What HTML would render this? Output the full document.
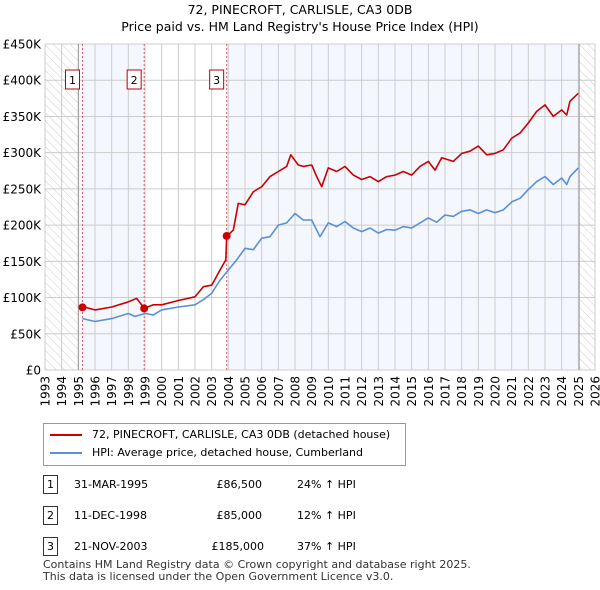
<!DOCTYPE html>
<html><head><meta charset="utf-8"><style>
body{margin:0;background:#fff;font-family:"DejaVu Sans","Liberation Sans",sans-serif;}
#wrap{position:relative;width:600px;height:590px;overflow:hidden}
text{font-family:"DejaVu Sans","Liberation Sans",sans-serif}
</style></head><body><div id="wrap">
<svg id="svg" width="600" height="590"></svg>
</div>
<script>
const hpiYears=[1995.25,1996,1997,1998,1998.4,1999,1999.5,2000,2001,2002,2002.5,2003,2003.5,2004,2004.5,2005,2005.5,2006,2006.5,2007,2007.5,2008,2008.5,2009,2009.3,2009.5,2010,2010.5,2011,2011.5,2012,2012.5,2013,2013.5,2014,2014.5,2015,2015.5,2016,2016.5,2017,2017.5,2018,2018.5,2019,2019.5,2020,2020.5,2021,2021.5,2022,2022.5,2023,2023.5,2024,2024.3,2024.5,2025];
const hpiValues=[71,67,71,78,74,78,76,83,87,90,97,106,124,138,152,168,166,182,184,200,203,216,207,207,193,184,203,198,205,196,191,196,189,194,193,198,196,203,210,204,214,212,219,221,216,221,217,221,232,237,249,260,267,256,265,256,267,279];
const priceYears=[1995.25,1996,1997,1998,1998.5,1998.95,1999.5,2000,2001,2002,2002.5,2003,2003.5,2003.85,2003.9,2004.3,2004.6,2005,2005.5,2006,2006.5,2007,2007.5,2007.75,2008.2,2008.5,2009,2009.3,2009.6,2010,2010.5,2011,2011.5,2012,2012.5,2013,2013.5,2014,2014.5,2015,2015.5,2016,2016.4,2016.8,2017.5,2018,2018.5,2019,2019.5,2020,2020.5,2021,2021.5,2022,2022.5,2023,2023.5,2024,2024.3,2024.5,2025];
const priceValues=[87.5,83,87,94,99,85,90,90,96,101,115,117,138,152,185,193,230,228,246,253,267,274,281,297,283,281,283,267,253,279,274,281,269,263,267,260,267,269,274,269,281,288,276,293,288,299,302,309,297,299,304,320,327,341,357,366,350,359,352,371,382];
const saleYears=[1995.25,1998.95,2003.9];
const saleValues=[86.5,85,185];
const saleLabels=["1","2","3"];
const yTicks=[0,50,100,150,200,250,300,350,400,450];
const yTickLabels=["£0","£50K","£100K","£150K","£200K","£250K","£300K","£350K","£400K","£450K"];
const xTicks=[];for(let y=1993;y<=2026;y++)xTicks.push(y);

const L=45,R=595,T=44,B=370;
const xs=y=>L+(y-1993)*(R-L)/33;
const ys=v=>B-v*(B-T)/450;
const NS="http://www.w3.org/2000/svg";
const svg=document.getElementById('svg');
function mk(tag,attrs,parent){const e=document.createElementNS(NS,tag);for(const k in attrs)e.setAttribute(k,attrs[k]);(parent||svg).appendChild(e);return e;}

const defs=mk('defs',{});
const pat=mk('pattern',{id:'hatch',width:6,height:6,patternUnits:'userSpaceOnUse',patternTransform:'rotate(-45)'},defs);
mk('line',{x1:0,y1:0,x2:0,y2:6,stroke:'#ccc','stroke-width':1},pat);

let t=mk('text',{x:300,y:14,'text-anchor':'middle','font-size':12.5,fill:'#000'});t.textContent="72, PINECROFT, CARLISLE, CA3 0DB";

t=mk('text',{x:300,y:31,'text-anchor':'middle','font-size':12.5,fill:'#000'});t.textContent="Price paid vs. HM Land Registry's House Price Index (HPI)";


let r=mk('rect',{x:xs(1993),y:T,width:xs(1995)-xs(1993),height:B-T,fill:'url(#hatch)'});

r=mk('rect',{x:xs(2025.05),y:T,width:R-xs(2025.05),height:B-T,fill:'url(#hatch)'});

r=mk('rect',{x:xs(1995),y:T,width:xs(saleYears[1])-xs(1995),height:B-T,fill:'#f4f7fd'});

r=mk('rect',{x:xs(saleYears[2]),y:T,width:xs(2025.05)-xs(saleYears[2]),height:B-T,fill:'#f4f7fd'});


yTicks.forEach((v,i)=>{
 const l=mk('line',{x1:L,x2:R,y1:ys(v),y2:ys(v),stroke:'#cccccc','stroke-width':1});
 
 const tx=mk('text',{x:L-4,y:ys(v)+4.5,'text-anchor':'end','font-size':12,fill:'#000'});tx.textContent=yTickLabels[i];
 
});
xTicks.forEach(y=>{
 const l=mk('line',{x1:xs(y),x2:xs(y),y1:T,y2:B,stroke:'#cccccc','stroke-width':1});
 
 const tx=mk('text',{x:0,y:0,'text-anchor':'end','font-size':12,fill:'#000',transform:`translate(${xs(y)+4.5},${B+6}) rotate(-90)`});tx.textContent=y;
 
});
r=mk('rect',{x:L,y:T,width:R-L,height:B-T,fill:'none',stroke:'#cccccc'});

let gl=mk('line',{x1:xs(1995),x2:xs(1995),y1:T,y2:B,stroke:'#999'});

gl=mk('line',{x1:xs(2025.05),x2:xs(2025.05),y1:T,y2:B,stroke:'#999'});


saleYears.forEach((y,i)=>{
 const l=mk('line',{x1:xs(y),x2:xs(y),y1:T,y2:B,stroke:'#e06060','stroke-dasharray':'2,2','stroke-width':1});
 
 const bx=mk('rect',{x:xs(y)-17,y:70,width:14,height:19,fill:'#fff',stroke:'#c00000'});
 
 const tx=mk('text',{x:xs(y)-10,y:84,'text-anchor':'middle','font-size':11,fill:'#000'});tx.textContent=saleLabels[i];
 
});

function path(xa,va,color,name){
 const d=xa.map((y,i)=>(i?'L':'M')+xs(y).toFixed(1)+','+ys(va[i]).toFixed(1)).join('');
 const p=mk('path',{d,fill:'none',stroke:color,'stroke-width':1.6,'stroke-linejoin':'round'});
 
}
path(hpiYears,hpiValues,'#5b8fd6','hpi-line');
path(priceYears,priceValues,'#cc0000','price-paid-line');
saleYears.forEach((y,i)=>{
 const c=mk('circle',{cx:xs(y),cy:ys(saleValues[i]),r:4,fill:'#cc0000'});
 
});
</script>
<div style="position:absolute;left:43px;top:423px;width:361px;height:41px;border:1px solid #999;font-size:11px;">
 <div style="position:absolute;left:6px;top:4px;white-space:nowrap"><span style="display:inline-block;width:32px;height:2px;background:#cc0000;vertical-align:middle;margin-right:10px"></span>72, PINECROFT, CARLISLE, CA3 0DB (detached house)</div>
 <div style="position:absolute;left:6px;top:22px;white-space:nowrap"><span style="display:inline-block;width:32px;height:2px;background:#5b8fd6;vertical-align:middle;margin-right:10px"></span>HPI: Average price, detached house, Cumberland</div>
</div>
<div style="position:absolute;left:0;top:0;font-size:11px">
 <div style="position:absolute;left:43px;top:475px;width:13px;height:17px;border:1px solid #333;text-align:center;line-height:17px">1</div>
 <div style="position:absolute;left:43px;top:506px;width:13px;height:17px;border:1px solid #333;text-align:center;line-height:17px">2</div>
 <div style="position:absolute;left:43px;top:537px;width:13px;height:17px;border:1px solid #333;text-align:center;line-height:17px">3</div>
 <div style="position:absolute;left:74px;top:478px;white-space:nowrap">31-MAR-1995</div>
 <div style="position:absolute;left:74px;top:509px;white-space:nowrap">11-DEC-1998</div>
 <div style="position:absolute;left:74px;top:540px;white-space:nowrap">21-NOV-2003</div>
 <div style="position:absolute;left:190px;width:72px;text-align:right;top:478px">£86,500</div>
 <div style="position:absolute;left:190px;width:72px;text-align:right;top:509px">£85,000</div>
 <div style="position:absolute;left:190px;width:74px;text-align:right;top:540px">£185,000</div>
 <div style="position:absolute;left:297px;top:478px;white-space:nowrap">24% ↑ HPI</div>
 <div style="position:absolute;left:297px;top:509px;white-space:nowrap">12% ↑ HPI</div>
 <div style="position:absolute;left:297px;top:540px;white-space:nowrap">37% ↑ HPI</div>
</div>
<div style="position:absolute;left:43px;top:559px;font-size:11px;line-height:12px;color:#333">Contains HM Land Registry data © Crown copyright and database right 2025.<br>This data is licensed under the Open Government Licence v3.0.</div>
</body></html>
